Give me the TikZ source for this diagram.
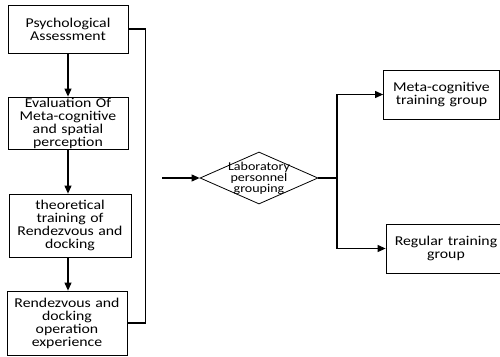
\documentclass[tikz,border=0pt]{standalone}
\usepackage{fontspec}
\setmainfont{Carlito}[FakeStretch=1.17]
\usepackage{tikz}
\usetikzlibrary{positioning, arrows.meta, shapes.geometric, calc}

\begin{document}
\begin{tikzpicture}[x=1pt, y=-1pt,
    stage/.style={draw, line width=0.8pt, align=center, inner sep=0pt, text width=116pt,
        font=\fontsize{13.5}{13}\selectfont},
    decision/.style={draw, diamond, line width=0.8pt, inner sep=0pt, aspect=2.27,
        minimum width=118pt, minimum height=52pt},
    flow/.style={line width=1.1pt, -{Triangle[length=8pt,width=7pt]}},
    link/.style={line width=1.1pt}]
    \useasboundingbox (0,0) rectangle (500,356);
    % Etapes a gauche
    \node[stage, minimum width=120pt, minimum height=48pt] (assess) at (68,29) {Psychological\\Assessment};
    \node[stage, minimum width=120pt, minimum height=52pt] (evaluation) at (68,123) {Evaluation Of\\Meta-cognitive\\and spatial\\perception};
    \node[stage, minimum width=122pt, minimum height=63pt] (theory) at (70,225.5) {theoretical\\training of\\Rendezvous and\\docking};
    \node[stage, minimum width=120pt, minimum height=64pt] (operation) at (67,323) {Rendezvous and\\docking\\operation\\experience};
    
    % Groupes
    \node[decision] (grouping) at (259,178) {};
    \node[align=center, font=\fontsize{12}{11}\selectfont] (groupingtext) at (grouping) {Laboratory\\personnel\\grouping};
    \node[stage, minimum width=115pt, minimum height=49pt] (metagroup) at (441.5,94.5) {Meta-cognitive\\training group};
    \node[stage, minimum width=120pt, minimum height=49pt] (regulargroup) at (446,248.5) {Regular training\\group};
    \coordinate (entry) at (162,178);
    \coordinate (split) at (337,178);
    
    % Fleches
    \draw[flow] (assess) -- (evaluation);
    \draw[flow] (evaluation.south) -- (evaluation.south |- theory.north);
    \draw[flow] (evaluation.south |- theory.south) -- (evaluation.south |- operation.north);
    \draw[link] (assess.east) -- ++(17,0) |- (operation.east);
    \draw[flow] (entry) -- (grouping.west);
    \draw[link] (grouping.east) -- (split);
    \draw[flow] (split) |- (metagroup.west);
    \draw[flow] (split) |- (regulargroup.west);
\end{tikzpicture}
\end{document}
